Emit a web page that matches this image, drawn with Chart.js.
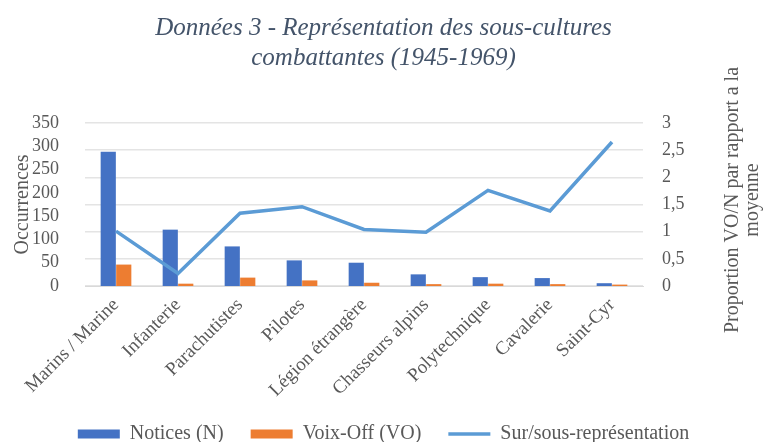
<!DOCTYPE html>
<html lang="fr">
<head>
<meta charset="utf-8">
<title>Données 3 - Représentation des sous-cultures combattantes</title>
<script src="https://cdn.jsdelivr.net/npm/chart.js@4.4.1/dist/chart.umd.min.js"></script>
<style>
    html, body { margin: 0; padding: 0; background: #ffffff; }
    #wrap { width: 767px; height: 442px; position: relative; }
</style>
</head>
<body>
<div id="wrap"><canvas id="subcultureChart"></canvas></div>
<script>
// Data
const categories = ['Marins / Marine', 'Infanterie', 'Parachutistes', 'Pilotes', 'Légion étrangère',
    'Chasseurs alpins', 'Polytechnique', 'Cavalerie', 'Saint-Cyr'];
const notices = [288, 121, 85, 55, 50, 25, 19, 17, 6];
const voixOff = [46, 5, 18, 12, 7, 4, 5, 4, 3];
const ratio = [1.01, 0.23, 1.34, 1.46, 1.04, 0.99, 1.76, 1.38, 2.65];
const leftTicks = [0, 50, 100, 150, 200, 250, 300, 350];
const rightTicks = [0, 0.5, 1, 1.5, 2, 2.5, 3];

const titleLines = ['Données 3 - Représentation des sous-cultures', 'combattantes (1945-1969)'];
const rightTitle = ['Proportion VO/N par rapport a la', 'moyenne'];

const SERIF = "'Liberation Serif', 'DejaVu Serif', serif";
const GREY = '#595959';

// Right axis title reads bottom-to-top, so draw it by hand
const rightTitlePlugin = {
    id: 'rightTitle',
    afterDraw(chart) {
        const ctx = chart.ctx;
        ctx.save();
        ctx.fillStyle = GREY;
        ctx.font = '20px ' + SERIF;
        ctx.textAlign = 'center';
        ctx.textBaseline = 'middle';
        [733, 753].forEach((x, i) => {
            ctx.save();
            ctx.translate(x, 200);
            ctx.rotate(-Math.PI / 2);
            ctx.fillText(rightTitle[i], 0, 0);
            ctx.restore();
        });
        ctx.restore();
    }
};

const ctx = document.getElementById('subcultureChart').getContext('2d');
new Chart(ctx, {
    type: 'bar',
    data: {
        labels: categories,
        datasets: [
            {
                label: 'Notices (N)',
                data: notices,
                backgroundColor: '#4472C4',
                yAxisID: 'y',
                order: 2,
                categoryPercentage: 0.5,
                barPercentage: 0.98
            },
            {
                label: 'Voix-Off (VO)',
                data: voixOff,
                backgroundColor: '#ED7D31',
                yAxisID: 'y',
                order: 2,
                categoryPercentage: 0.5,
                barPercentage: 0.98
            },
            {
                type: 'line',
                label: 'Sur/sous-représentation',
                data: ratio,
                borderColor: '#5B9BD5',
                backgroundColor: '#5B9BD5',
                borderWidth: 3.5,
                pointRadius: 0,
                tension: 0,
                yAxisID: 'y1',
                order: 1
            }
        ]
    },
    options: {
        responsive: true,
        maintainAspectRatio: false,
        animation: false,
        layout: { padding: { left: 0, right: 0, top: 13, bottom: -12 } },
        plugins: {
            title: {
                display: true,
                text: titleLines,
                color: '#44546A',
                font: { family: SERIF, size: 25, style: 'italic', weight: 'normal', lineHeight: 1.2 },
                padding: { top: 0, bottom: 50 }
            },
            legend: {
                position: 'bottom',
                labels: {
                    color: GREY,
                    font: { family: SERIF, size: 20 },
                    usePointStyle: true,
                    pointStyleWidth: 42,
                    boxHeight: 9,
                    padding: 27,
                    sort: (a, b) => a.datasetIndex - b.datasetIndex,
                    generateLabels(chart) {
                        const items = Chart.defaults.plugins.legend.labels.generateLabels(chart);
                        items.forEach(item => {
                            if (item.datasetIndex === 2) {
                                item.pointStyle = 'line';
                                item.strokeStyle = '#5B9BD5';
                                item.lineWidth = 3.5;
                            } else {
                                item.pointStyle = 'rect';
                                item.lineWidth = 0;
                            }
                        });
                        return items;
                    }
                }
            },
            tooltip: { enabled: false }
        },
        scales: {
            x: {
                afterFit(scale) { scale.height = 111; },
                grid: { display: false },
                border: { color: '#D9D9D9' },
                ticks: {
                    color: GREY,
                    font: { family: SERIF, size: 19 },
                    maxRotation: 45,
                    minRotation: 45,
                    padding: 0
                }
            },
            y: {
                position: 'left',
                min: 0,
                max: 350,
                afterBuildTicks(scale) { scale.ticks = leftTicks.map(v => ({ value: v })); },
                afterFit(scale) { scale.width = 85; },
                grid: { display: false },
                border: { display: false },
                ticks: {
                    color: GREY,
                    font: { family: SERIF, size: 18 },
                    padding: 18,
                    autoSkip: false
                },
                title: {
                    display: true,
                    text: 'Occurrences',
                    color: GREY,
                    font: { family: SERIF, size: 20 },
                    padding: { top: 11, bottom: 0 }
                }
            },
            y1: {
                position: 'right',
                min: 0,
                max: 3,
                afterBuildTicks(scale) { scale.ticks = rightTicks.map(v => ({ value: v })); },
                afterFit(scale) { scale.width = 124; },
                grid: { color: '#E4E4E4', lineWidth: 1.5, drawTicks: false },
                border: { display: false },
                ticks: {
                    color: GREY,
                    font: { family: SERIF, size: 18 },
                    padding: 19,
                    autoSkip: false,
                    callback: v => String(v).replace('.', ',')
                }
            }
        }
    },
    plugins: [rightTitlePlugin]
});
</script>
</body>
</html>
